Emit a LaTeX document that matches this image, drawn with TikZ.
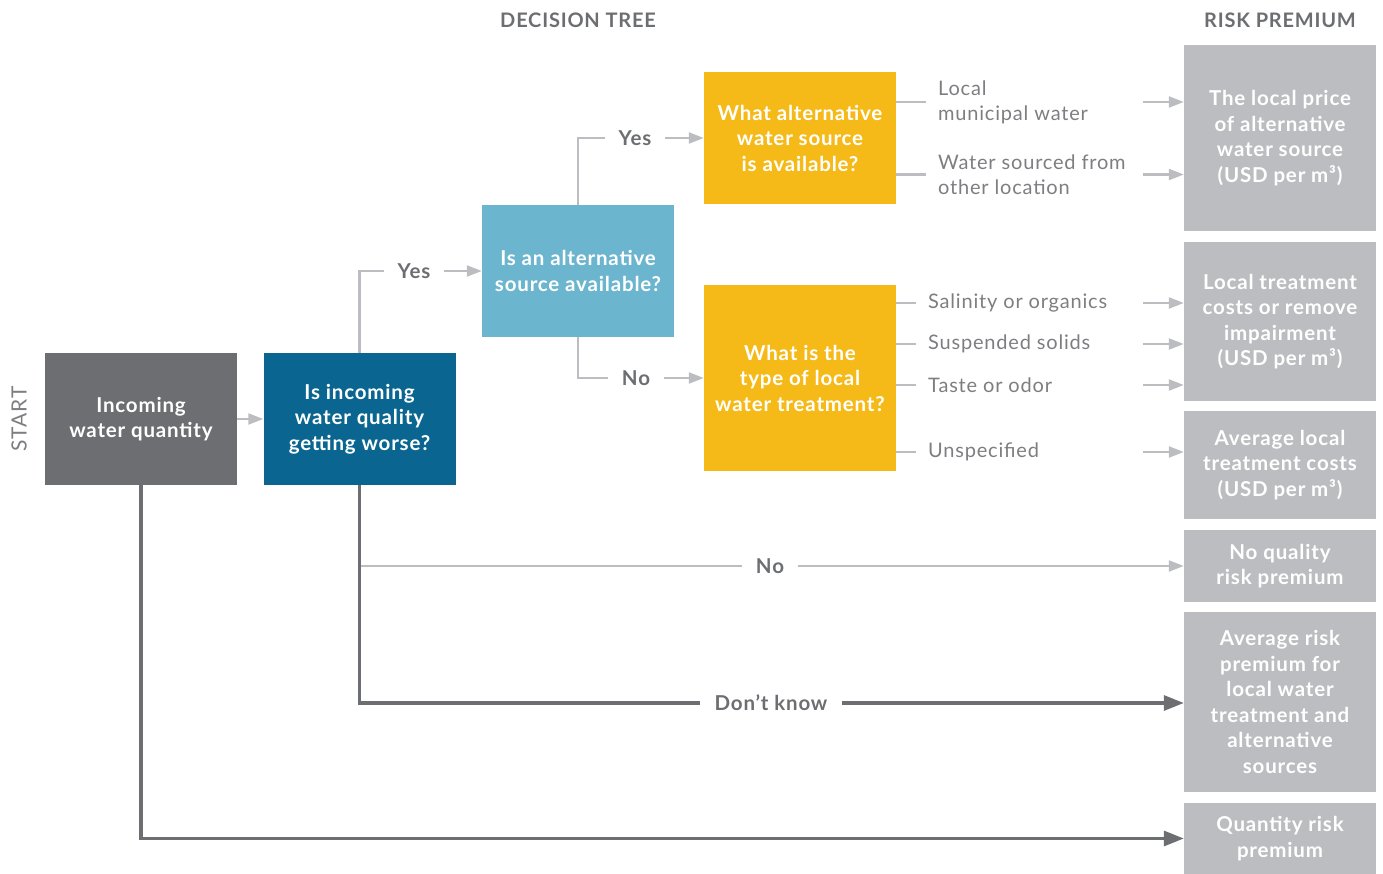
\documentclass[tikz,border=0pt]{standalone}
\usepackage{fontspec}
\setmainfont{Lato}[LetterSpace=4]
\usetikzlibrary{arrows.meta}
\definecolor{cgray}{HTML}{6D6E71}
\definecolor{cdblue}{HTML}{0A6690}
\definecolor{clblue}{HTML}{6CB5CF}
\definecolor{cyellow}{HTML}{F5BA18}
\definecolor{crisk}{HTML}{BCBDC0}
\definecolor{clite}{HTML}{BCBDC0}
\definecolor{ctext}{HTML}{7D7E81}
\begin{document}
\begin{tikzpicture}[x=1pt,y=-1pt,
  box/.style={rectangle, minimum width=192pt, minimum height=132pt, inner sep=0pt, align=center, text=white, font=\fontsize{20.5}{25.5}\selectfont\bfseries},
  riskbox/.style={box, fill=crisk},
  lite/.style={draw=clite, line width=2.2pt},
  litearrow/.style={lite, -{Triangle[length=15pt,width=11pt]}},
  darkline/.style={draw=cgray, line width=3.2pt},
  darkarrow/.style={darkline, -{Triangle[length=20pt,width=15pt]}},
  branchlabel/.style={text=cgray, font=\fontsize{20.5}{24}\selectfont\bfseries, inner xsep=14pt, inner ysep=0pt},
  optlabel/.style={text=ctext, font=\fontsize{20}{25}\selectfont, anchor=west, align=left, inner xsep=12pt, inner ysep=0pt},
  header/.style={text=cgray, font=\fontsize{20}{22}\selectfont\bfseries}
]
\useasboundingbox (0,0) rectangle (1383,874);

% headers
\node[header] (h1) at (578,20) {DECISION TREE};
\node[header] (h2) at (1280,20) {RISK PREMIUM};
\node[text=ctext, font=\fontsize{21}{22}\selectfont, rotate=90] (start) at (19,419) {START};

% decision boxes
\node[box, fill=cgray] (inc) at (141,419) {Incoming\\water quantity};
\node[box, fill=cdblue] (q1) at (359.5,419) {Is incoming\\water quality\\getting worse?};
\node[box, fill=clblue] (q2) at (578,271) {Is an alternative\\source available?};
\node[box, fill=cyellow] (q3) at (800,138) {What alternative\\water source\\is available?};
\node[box, fill=cyellow, minimum height=186pt] (q4) at (800,378) {What is the\\type of local\\water treatment?};

% risk boxes
\node[riskbox, minimum height=186pt] (r1) at (1280,138) {The local price\\of alternative\\water source\\(USD per m³)};
\node[riskbox, minimum height=159pt] (r2) at (1280,321.5) {Local treatment\\costs or remove\\impairment\\(USD per m³)};
\node[riskbox, minimum height=108pt] (r3) at (1280,465) {Average local\\treatment costs\\(USD per m³)};
\node[riskbox, minimum height=72pt] (r4) at (1280,566) {No quality\\risk premium};
\node[riskbox, minimum height=180pt] (r5) at (1280,702) {Average risk\\premium for\\local water\\treatment and\\alternative\\sources};
\node[riskbox, minimum height=71pt] (r6) at (1280,838.5) {Quantity risk\\premium};

% branch labels
\node[branchlabel] (yes1) at (414,271) {Yes};
\node[branchlabel] (yes2) at (635,138) {Yes};
\node[branchlabel] (no1) at (636,378) {No};
\node[branchlabel] (no2) at (770,566) {No};
\node[branchlabel] (dk) at (771,703) {Don’t know};

% option labels
\node[optlabel] (o1) at (926,102) {Local\\municipal water};
\node[optlabel] (o2) at (926,174.5) {Water sourced from\\other location};
\node[optlabel] (o3) at (916,303) {Salinity or organics};
\node[optlabel] (o4) at (916,344) {Suspended solids};
\node[optlabel] (o5) at (916,385) {Taste or odor};
\node[optlabel] (o6) at (916,452) {Unspecified};

% connectors
\draw[litearrow] (inc.east) -- (q1.west);
\draw[lite] (q1.north) |- (yes1.west);
\draw[litearrow] (yes1.east) -- (q2.west |- yes1);
\draw[lite] (q2.north) |- (yes2.west);
\draw[litearrow] (yes2.east) -- (q3.west |- yes2);
\draw[lite] (q2.south) |- (no1.west);
\draw[litearrow] (no1.east) -- (q4.west |- no1);

\foreach \o/\r/\q in {o1/r1/q3, o2/r1/q3, o3/r2/q4, o4/r2/q4, o5/r2/q4, o6/r3/q4}{
  \draw[lite] (\q.east |- \o) -- (\o.west);
  \draw[litearrow] ([xshift=-41pt]\r.west |- \o) -- (\r.west |- \o);
}

\draw[lite] (q1.south |- no2) -- (no2.west);
\draw[litearrow] (no2.east) -- (r4.west |- no2);
\draw[darkline] (q1.south) |- (dk.west);
\draw[darkarrow] (dk.east) -- (r5.west |- dk);
\draw[darkarrow] (inc.south) |- (r6.west);
\end{tikzpicture}
\end{document}
